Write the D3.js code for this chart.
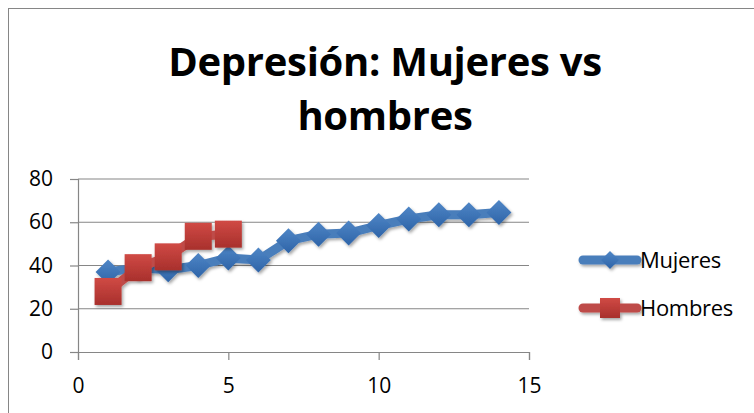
<!DOCTYPE html>
<meta charset="utf-8">
<style>
  body { margin: 0; background: #fff; }
  text { font-family: "Open Sans", Lato, sans-serif; }
</style>
<body>
<script src="https://d3js.org/d3.v7.min.js"></script>
<script>

// data
var xMujeres = [1, 2, 3, 4, 5, 6, 7, 8, 9, 10, 11, 12, 13, 14];
var mujeres = [37, 39, 38, 40, 43.5, 42.5, 51.5, 54.5, 55, 58.5, 61.5, 63.5, 63.5, 64.5];
var xHombres = [1, 2, 3, 4, 5];
var hombres = [28, 39, 44, 53.5, 54.5];
var xTicks = [0, 5, 10, 15];
var yTicks = [0, 20, 40, 60, 80];
var seriesNames = ["Mujeres", "Hombres"];
var titleLines = ["Depresión: Mujeres vs", "hombres"];

var W = 754, H = 413;

var svg = d3.select("body").append("svg")
    .attr("width", W)
    .attr("height", H);

var defs = svg.append("defs");
var f = defs.append("filter").attr("id", "shadow").attr("x", "-30%").attr("y", "-30%").attr("width", "160%").attr("height", "160%");
f.append("feDropShadow").attr("dx", 1.5).attr("dy", 2).attr("stdDeviation", 1.5).attr("flood-color", "#000").attr("flood-opacity", 0.35);

var gb = defs.append("linearGradient").attr("id", "gblue").attr("x1", 0).attr("y1", 0).attr("x2", 0).attr("y2", 1);
gb.append("stop").attr("offset", "0%").attr("stop-color", "#4f86c6");
gb.append("stop").attr("offset", "100%").attr("stop-color", "#2e64a8");
var gr = defs.append("linearGradient").attr("id", "gred").attr("x1", 0).attr("y1", 0).attr("x2", 0).attr("y2", 1);
gr.append("stop").attr("offset", "0%").attr("stop-color", "#d04a45");
gr.append("stop").attr("offset", "100%").attr("stop-color", "#a8302c");

// chart border
svg.append("rect")
    .attr("x", 8.5).attr("y", 8.5)
    .attr("width", W).attr("height", H)
    .attr("fill", "none")
    .attr("stroke", "#868686")
    .attr("stroke-width", 1);

// title
svg.selectAll(".title")
    .data(titleLines)
    .enter().append("text")
    .attr("class", "title")
    .attr("x", 385)
    .attr("y", function (d, i) { return 76 + i * 54; })
    .attr("text-anchor", "middle")
    .attr("font-size", 40).attr("font-weight", "bold")
    .attr("letter-spacing", -0.3)
    .text(function (d) { return d; });

var x = d3.scaleLinear().domain([0, 15]).range([78, 529]);
var y = d3.scaleLinear().domain([0, 80]).range([352, 179]);

// grid
svg.append("g").selectAll("line")
    .data(yTicks.slice(1))
    .enter().append("line")
    .attr("x1", 78).attr("x2", 529)
    .attr("y1", function (d) { return y(d); })
    .attr("y2", function (d) { return y(d); })
    .attr("stroke", "#868686").attr("stroke-width", 1.2);

// axes
var yAxis = svg.append("g")
    .attr("transform", "translate(78,0)")
    .call(d3.axisLeft(y).tickValues(yTicks).tickSize(8).tickPadding(17));
var xAxis = svg.append("g")
    .attr("transform", "translate(0,352)")
    .call(d3.axisBottom(x).tickValues(xTicks).tickSize(8).tickPadding(18));
[xAxis, yAxis].forEach(function (a) {
    a.select(".domain").attr("stroke", "#868686").attr("stroke-width", 1.2);
    a.selectAll(".tick line").attr("stroke", "#868686").attr("stroke-width", 1.2);
    a.selectAll("text").attr("font-size", 21).attr("fill", "#000")
        .style("font-family", "'Open Sans', Lato, sans-serif");
});

var line = d3.line()
    .x(function (d) { return x(d[0]); })
    .y(function (d) { return y(d[1]); });

var mData = d3.zip(xMujeres, mujeres);
var hData = d3.zip(xHombres, hombres);

var diamond = function (s) { return "M0," + (-s) + "L" + s + ",0L0," + s + "L" + (-s) + ",0Z"; };

// Mujeres
var gm = svg.append("g").attr("filter", "url(#shadow)");
gm.append("path")
    .datum(mData)
    .attr("d", line)
    .attr("fill", "none")
    .attr("stroke", "#4a7ebb")
    .attr("stroke-width", 9)
    .attr("stroke-linejoin", "round")
    .attr("stroke-linecap", "round");
gm.selectAll(".dia")
    .data(mData)
    .enter().append("path")
    .attr("class", "dia")
    .attr("transform", function (d) { return "translate(" + x(d[0]) + "," + y(d[1]) + ")"; })
    .attr("d", diamond(12.5))
    .attr("fill", "url(#gblue)");

// Hombres
var gh = svg.append("g").attr("filter", "url(#shadow)");
gh.append("path")
    .datum(hData)
    .attr("d", line)
    .attr("fill", "none")
    .attr("stroke", "#be4b48")
    .attr("stroke-width", 9)
    .attr("stroke-linejoin", "round")
    .attr("stroke-linecap", "round");
gh.selectAll(".sq")
    .data(hData)
    .enter().append("rect")
    .attr("class", "sq")
    .attr("x", function (d) { return x(d[0]) - 13.5; })
    .attr("y", function (d) { return y(d[1]) - 13.5; })
    .attr("width", 27).attr("height", 27)
    .attr("fill", "url(#gred)");

// legend
var legend = svg.append("g");
var ly = [260, 308];
seriesNames.forEach(function (name, i) {
    var g = legend.append("g").attr("filter", "url(#shadow)");
    var col = i === 0 ? "#4a7ebb" : "#be4b48";
    g.append("line")
        .attr("x1", 583).attr("x2", 637)
        .attr("y1", ly[i]).attr("y2", ly[i])
        .attr("stroke", col).attr("stroke-width", 9)
        .attr("stroke-linecap", "round");
    if (i === 0) {
        g.append("path")
            .attr("transform", "translate(610," + ly[i] + ")")
            .attr("d", diamond(9))
            .attr("fill", "url(#gblue)");
    } else {
        g.append("rect")
            .attr("x", 600).attr("y", ly[i] - 10)
            .attr("width", 20).attr("height", 20)
            .attr("fill", "url(#gred)");
    }
    legend.append("text")
        .attr("x", 640).attr("y", ly[i] + 8)
        .attr("font-size", 22)
        .attr("letter-spacing", -0.3)
        .text(name);
});

</script>
</body>
